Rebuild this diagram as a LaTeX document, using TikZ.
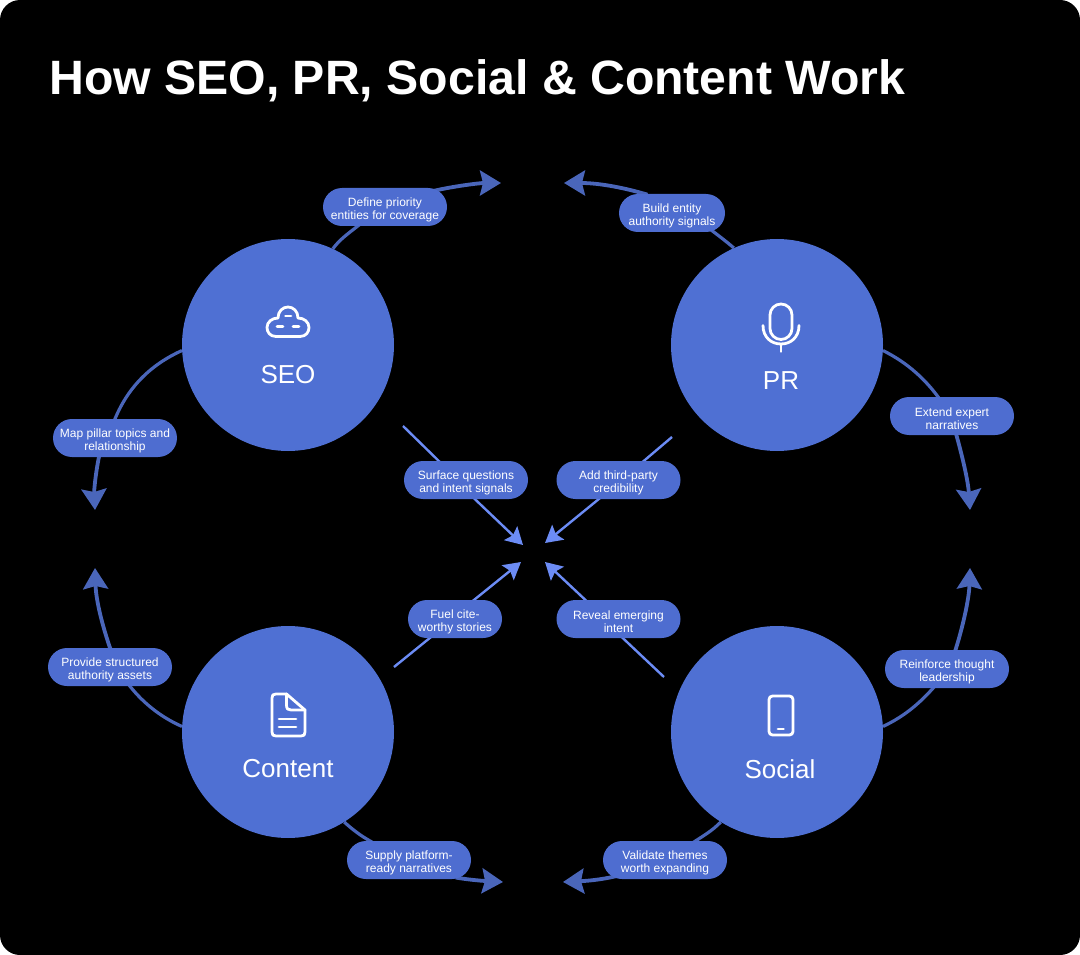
\documentclass[tikz,border=0pt]{standalone}
\usepackage{fontspec}
\setmainfont{Liberation Sans}
\usetikzlibrary{arrows.meta,shapes.misc}
\definecolor{PanelClr}{HTML}{000000}
\definecolor{CircleClr}{HTML}{4F70D3}
\definecolor{PillClr}{HTML}{4E6DD0}
\definecolor{OuterClr}{HTML}{4A66BA}
\definecolor{InnerClr}{HTML}{6C8CF5}
\pgfdeclarelayer{panel}
\pgfdeclarelayer{links}
\pgfsetlayers{panel,links,main}
\tikzset{
  hub/.style={circle,fill=CircleClr,minimum size=212pt,inner sep=0pt},
  hubtext/.style={text=white,font=\fontsize{26}{26}\selectfont,inner sep=0pt},
  pill/.style={rounded rectangle,fill=PillClr,text=white,minimum width=#1,minimum height=38pt,
    inner sep=0pt,align=center,font=\fontsize{12}{13}\selectfont,
    execute at begin node={\rule{0pt}{26.5pt}}},
  pill/.default=124pt,
  outerlink/.style={draw=OuterClr,line width=3.2pt,shorten >=-3pt},
  outerhead/.style={draw=OuterClr,line width=3.8pt,shorten <=-3pt,-{Stealth[length=21pt,width=25pt,inset=3pt]}},
  innerlink/.style={draw=InnerClr,line width=2.4pt,shorten >=-3pt},
  innerhead/.style={draw=InnerClr,line width=2.4pt,shorten <=-3pt,-{Stealth[length=17pt,width=19pt,inset=3pt]}},
  icon/.style={draw=white,line width=2.8pt,line cap=round,line join=round}
}

\begin{document}
\begin{tikzpicture}[x=1pt,y=-1pt]
\useasboundingbox (0,0) rectangle (1080,955);

\begin{pgfonlayer}{panel}
\fill[PanelClr,rounded corners=20pt] (0,0) rectangle (1080,955);
\end{pgfonlayer}

\node[anchor=base west,text=white,inner sep=0pt,font=\fontsize{48.2}{49}\selectfont\bfseries] (title) at (49,95) {How SEO, PR, Social \& Content Work};

\node[hub] (seo) at (288,345) {};
\node[hub] (pr) at (777,345) {};
\node[hub] (content) at (288,732) {};
\node[hub] (social) at (777,732) {};

\node[hubtext] (seotext) at (288,375) {SEO};
\node[hubtext] (prtext) at (781,381) {PR};
\node[hubtext] (contenttext) at (288,769) {Content};
\node[hubtext] (socialtext) at (780,769) {Social};

\node[pill] (define) at (385,207) {Define priority\\entities for coverage};
\node[pill=106pt] (build) at (672,213) {Build entity\\authority signals};
\node[pill] (map) at (115,438) {Map pillar topics and\\relationship};
\node[pill] (extend) at (952,416) {Extend expert\\narratives};
\node[pill] (surface) at (466,480) {Surface questions\\and intent signals};
\node[pill] (add) at (618.5,480) {Add third-party\\credibility};
\node[pill=94pt] (fuel) at (455,619) {Fuel cite-\\worthy stories};
\node[pill] (reveal) at (618.5,619) {Reveal emerging\\intent};
\node[pill] (provide) at (110,667) {Provide structured\\authority assets};
\node[pill] (reinforce) at (947,669) {Reinforce thought\\leadership};
\node[pill] (supply) at (409,860) {Supply platform-\\ready narratives};
\node[pill] (validate) at (665,860) {Validate themes\\worth expanding};

\coordinate (tipdefine) at (501,183);
\coordinate (tipbuild) at (564,183);
\coordinate (tipmap) at (95,510);
\coordinate (tipextend) at (970,510);
\coordinate (tipprovide) at (95,568);
\coordinate (tipreinforce) at (970,568);
\coordinate (tipsupply) at (503,882);
\coordinate (tipvalidate) at (563,882);
\coordinate (tipsurface) at (523,545);
\coordinate (tipadd) at (545,543);
\coordinate (tipfuel) at (521,562);
\coordinate (tipreveal) at (545,562);
\coordinate (startsurface) at (403,426);
\coordinate (startadd) at (672,437);
\coordinate (startfuel) at (394,667);
\coordinate (startreveal) at (664,677);

\begin{pgfonlayer}{links}
\draw[outerlink] (seo.65) .. controls (340,239) and (349,233) .. (define.215);
\draw[outerhead] (define.18) .. controls (455,186) and (480,183) .. (tipdefine);
\draw[outerlink] (pr.114) .. controls (727,242) and (719,236) .. (build.-24);
\draw[outerhead] (build.145) .. controls (625,188) and (600,183) .. (tipbuild);
\draw[outerlink] (seo.183) .. controls (150,365) and (127,388) .. (map.north);
\draw[outerhead] (map.230) .. controls (96,470) and (94,490) .. (tipmap);
\draw[outerlink] (pr.-3) .. controls (908,363) and (926,380) .. (extend.126);
\draw[outerhead] (extend.-77) .. controls (962,455) and (968,480) .. (tipextend);
\draw[outerlink] (content.177) .. controls (165,719) and (145,706) .. (provide.-44);
\draw[outerhead] (provide.north) .. controls (102,625) and (96,600) .. (tipprovide);
\draw[outerlink] (social.3) .. controls (905,716) and (920,703) .. (reinforce.234);
\draw[outerhead] (reinforce.66) .. controls (962,630) and (969,600) .. (tipreinforce);
\draw[outerlink] (content.-58) .. controls (353,830) and (361,836) .. (supply.154);
\draw[outerhead] (supply.-20) .. controls (470,880) and (485,881) .. (tipsupply);
\draw[outerlink] (social.238) .. controls (712,831) and (703,836) .. (validate.32);
\draw[outerhead] (validate.198) .. controls (600,880) and (585,881) .. (tipvalidate);

\draw[innerlink] (startsurface) -- (surface.145);
\draw[innerhead] (surface.-65) -- (tipsurface);
\draw[innerlink] (startadd) -- (add.37);
\draw[innerhead] (add.224) -- (tipadd);
\draw[innerlink] (startfuel) -- (fuel.217);
\draw[innerhead] (fuel.45) -- (tipfuel);
\draw[innerlink] (startreveal) -- (reveal.-77);
\draw[innerhead] (reveal.150) -- (tipreveal);
\end{pgfonlayer}

\draw[icon] (276,336.5) .. controls (270,336.5) and (267,332) .. (267,327.5) .. controls (267,322) and (272,318) .. (278,318)
  .. controls (278,311) and (283,307) .. (288,307) .. controls (293,307) and (298,311) .. (298,318)
  .. controls (304,318) and (309,322) .. (309,327.5) .. controls (309,332) and (306,336.5) .. (300,336.5) -- cycle;
\draw[icon] (285.5,316) -- (291,316);
\draw[icon] (277,326.5) -- (283,326.5);
\draw[icon] (293,326.5) -- (299,326.5);

\draw[icon,rounded corners=11pt] (770,304) rectangle (792,339.5);
\draw[icon] (763,325.5) .. controls (763,337) and (771,344) .. (781,344) .. controls (791,344) and (799,337) .. (799,325.5);
\draw[icon] (781,344) -- (781,351.5);

\draw[icon] (286.5,694) -- (276,694) .. controls (273,694) and (272,695) .. (272,698) -- (272,732) .. controls (272,735) and (273,736) .. (276,736)
  -- (301,736) .. controls (304,736) and (305,735) .. (305,732) -- (305,710) -- cycle;
\draw[icon] (286.5,694) -- (286.5,705) .. controls (286.5,709) and (288,710) .. (291,710) -- (305,710);
\draw[icon] (279,719) -- (296,719);
\draw[icon] (279,727) -- (296,727);

\draw[icon,rounded corners=3.5pt] (769,696) rectangle (793,735);
\draw[icon] (778,729) -- (783.5,729);

\end{tikzpicture}
\end{document}
